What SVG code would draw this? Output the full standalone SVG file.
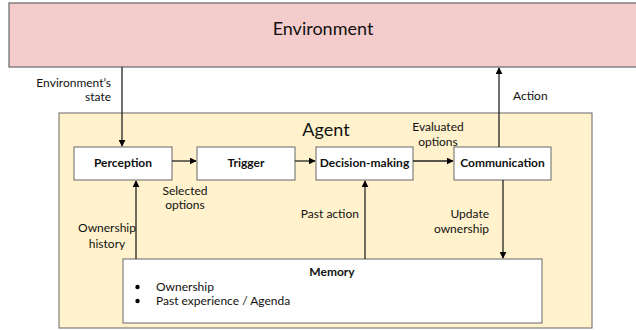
<svg xmlns="http://www.w3.org/2000/svg" width="636" height="330" viewBox="0 0 636 330">
<defs>
<marker id="ah" viewBox="0 0 10 10" refX="9" refY="5" markerWidth="7" markerHeight="7" markerUnits="userSpaceOnUse" orient="auto">
<path d="M0,0 L10,5 L0,10 z" fill="#000"/>
</marker>
<style>
text{font-family:Lato,"Liberation Sans",sans-serif;fill:#111}
.lbl{font-size:12px}
.node{fill:#fff;stroke:#666;stroke-width:1}
.nt{font-size:12px;font-weight:bold;text-anchor:middle}
.conn line{stroke:#222;stroke-width:1.3;marker-end:url(#ah)}
</style>
</defs>
<g id="environment">
<rect x="9" y="3" width="640" height="64" fill="#f4cccc" stroke="#666" stroke-width="1.2"/>
<text x="323" y="35" font-size="18" text-anchor="middle">Environment</text>
</g>
<g id="agent">
<rect x="59" y="113" width="533" height="215" fill="#fff2cc" stroke="#666" stroke-width="1"/>
<text x="326" y="136" font-size="18" text-anchor="middle">Agent</text>
</g>
<g id="perception">
<rect class="node" x="74" y="147" width="98" height="33"/>
<text class="nt" x="123" y="167">Perception</text>
</g>
<g id="trigger">
<rect class="node" x="197" y="147" width="98" height="33"/>
<text class="nt" x="246" y="167">Trigger</text>
</g>
<g id="decision">
<rect class="node" x="316" y="147" width="97" height="33"/>
<text class="nt" x="364.5" y="167">Decision-making</text>
</g>
<g id="communication">
<rect class="node" x="454" y="147" width="97" height="33"/>
<text class="nt" x="502.5" y="167">Communication</text>
</g>
<g id="memory">
<rect class="node" x="123" y="259" width="419" height="64"/>
<text class="nt" x="332" y="276">Memory</text>
<circle cx="137.5" cy="287" r="2.2" fill="#000"/>
<circle cx="137.5" cy="301" r="2.2" fill="#000"/>
<text class="lbl" x="156" y="291">Ownership</text>
<text class="lbl" x="156" y="305">Past experience / Agenda</text>
</g>
<g class="conn" id="connectors">
<line x1="122" y1="67" x2="122" y2="146"/>
<line x1="172" y1="161" x2="196" y2="161"/>
<line x1="295" y1="161" x2="315" y2="161"/>
<line x1="413" y1="161" x2="453" y2="161"/>
<line x1="499" y1="147" x2="499" y2="68"/>
<line x1="136" y1="259" x2="136" y2="181"/>
<line x1="365" y1="259" x2="365" y2="181"/>
<line x1="503" y1="180" x2="503" y2="258"/>
</g>
<g id="labels" class="lbl">
<text x="111" y="87" text-anchor="end">Environment’s</text>
<text x="111" y="101" text-anchor="end">state</text>
<text x="513" y="100">Action</text>
<text x="185" y="195" text-anchor="middle">Selected</text>
<text x="185" y="209" text-anchor="middle">options</text>
<text x="438" y="131" text-anchor="middle">Evaluated</text>
<text x="438" y="146" text-anchor="middle">options</text>
<text x="107" y="232" text-anchor="middle">Ownership</text>
<text x="107" y="248" text-anchor="middle">history</text>
<text x="359" y="218" text-anchor="end">Past action</text>
<text x="489" y="218" text-anchor="end">Update</text>
<text x="489" y="233" text-anchor="end">ownership</text>
</g>
</svg>
